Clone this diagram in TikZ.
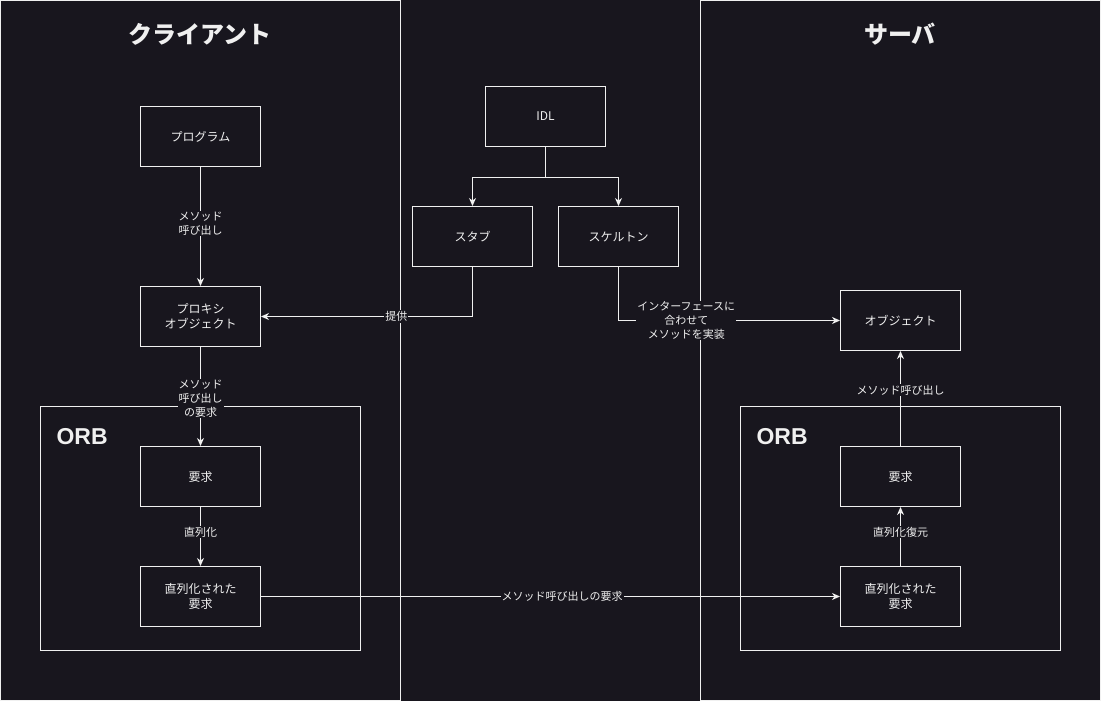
\documentclass[tikz,border=0pt]{standalone}
\usepackage{fontspec}
\setmainfont{Noto Sans CJK JP}
\newfontfamily\orbfont{Liberation Sans}
\usetikzlibrary{arrows.meta}
\definecolor{bgc}{RGB}{24,22,30}
\definecolor{fgc}{RGB}{240,240,240}
\tikzset{
  box/.style={draw=fgc, line width=1pt, fill=bgc, text=fgc, minimum width=120pt, minimum height=60pt, inner sep=0pt, align=center, font=\fontsize{12}{15}\selectfont},
  panel/.style={draw=fgc, line width=1pt},
  conn/.style={draw=fgc, line width=1pt, -{Stealth[length=8pt,width=7pt,inset=2.5pt]}},
  lbl/.style={fill=bgc, text=fgc, inner sep=1pt, align=center, font=\fontsize{11}{14}\selectfont},
  title/.style={text=fgc, font=\fontsize{24}{28}\selectfont\bfseries},
  orb/.style={text=fgc, anchor=west, font=\fontsize{23}{28}\selectfont\orbfont\bfseries}
}
\begin{document}
\begin{tikzpicture}[x=1pt,y=-1pt]
\fill[bgc] (0,0) rectangle (1101,701);
\useasboundingbox (0,0) rectangle (1101,701);
% panels
\draw[panel] (0.5,0.5) rectangle (400.5,700.5);
\draw[panel] (700.5,0.5) rectangle (1100.5,700.5);
\node[title] (tclient) at (200,34) {クライアント};
\node[title] (tserver) at (900,34) {サーバ};
% ORB containers
\draw[panel] (40.5,406.5) rectangle (360.5,650.5);
\draw[panel] (740.5,406.5) rectangle (1060.5,650.5);
\node[orb] (orbc) at (53,437) {ORB};
\node[orb] (orbs) at (753,437) {ORB};
% nodes
\node[box] (prog) at (200.5,136.5) {プログラム};
\node[box] (proxy) at (200.5,316.5) {プロキシ\\オブジェクト};
\node[box] (idl) at (545.5,116.5) {IDL};
\node[box] (stub) at (472.5,236.5) {スタブ};
\node[box] (skel) at (618.5,236.5) {スケルトン};
\node[box] (obj) at (900.5,320.5) {オブジェクト};
\node[box] (reqc) at (200.5,476.5) {要求};
\node[box] (serc) at (200.5,596.5) {直列化された\\要求};
\node[box] (reqs) at (900.5,476.5) {要求};
\node[box] (sers) at (900.5,596.5) {直列化された\\要求};
% connectors
\draw[conn] (prog) -- node[lbl, pos=0.475] {メソッド\\呼び出し} (proxy);
\draw[conn] (proxy) -- node[lbl, pos=0.52] {メソッド\\呼び出し\\の要求} (reqc);
\draw[conn] (reqc) -- node[lbl, pos=0.43] {直列化} (serc);
\draw[conn] (serc) -- node[lbl, pos=0.52] {メソッド呼び出しの要求} (sers);
\draw[conn] (sers) -- node[lbl, pos=0.57] {直列化復元} (reqs);
\draw[conn] (reqs) -- node[lbl, pos=0.59] {メソッド呼び出し} (obj);
\draw[conn] (idl.south) -- ++(0,30) -| (stub.north);
\draw[conn] (idl.south) -- ++(0,30) -| (skel.north);
\draw[conn] (stub.south) |- node[lbl, pos=0.68] {提供} (proxy.east);
\draw[conn] (skel.south) |- node[lbl, pos=0.653] {インターフェースに\\合わせて\\メソッドを実装} (obj.west);
\end{tikzpicture}
\end{document}
